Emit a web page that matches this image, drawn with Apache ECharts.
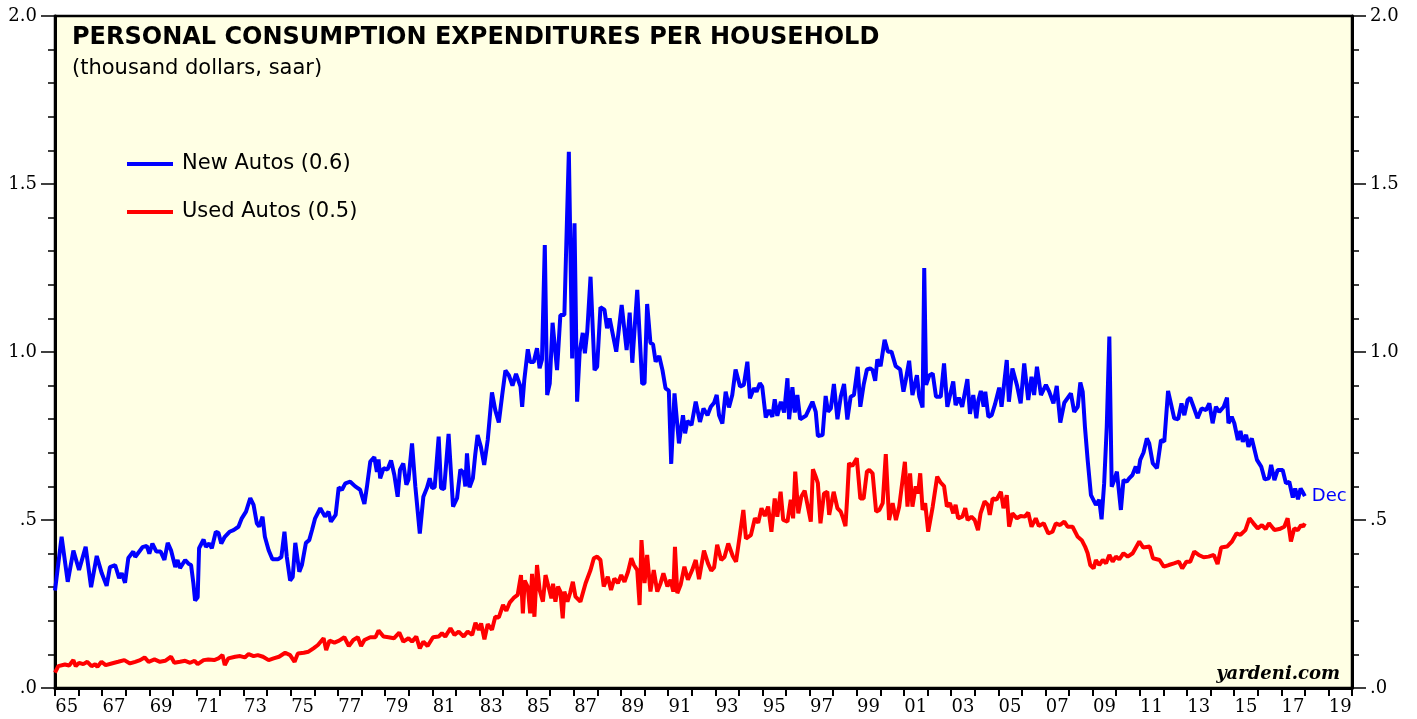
<!DOCTYPE html>
<html>
<head>
<meta charset="utf-8">
<script src="https://cdn.jsdelivr.net/npm/echarts@6/dist/echarts.min.js"></script>
<style>html,body{margin:0;padding:0;background:#fff}#c{width:1417px;height:719px}</style>
</head>
<body>
<div id="c"></div>
<script>
// Category (tick label) years along the x axis
const yearLabels = [];
for (let y = 1965; y <= 2019; y++) yearLabels.push(String(y).slice(2));

// Y axis tick labels
const yTickLabels = {0: '.0', 0.5: '.5', 1: '1.0', 1.5: '1.5', 2: '2.0'};

// New Autos: [decimal year, thousand dollars]
const newAutos = [
[1965.0,0.29],[1965.28,0.45],[1965.54,0.316],[1965.78,0.409],[1966.02,0.351],[1966.3,0.42],[1966.53,0.30],[1966.77,0.393],[1966.98,0.342],[1967.19,0.304],[1967.33,0.36],[1967.55,0.366],[1967.72,0.327],[1967.83,0.342],[1967.97,0.313],[1968.11,0.387],[1968.32,0.406],[1968.4,0.39],[1968.71,0.419],[1968.89,0.423],[1969.0,0.40],[1969.13,0.43],[1969.3,0.406],[1969.48,0.406],[1969.64,0.381],[1969.78,0.432],[1969.92,0.41],[1970.1,0.36],[1970.2,0.381],[1970.3,0.357],[1970.52,0.381],[1970.66,0.37],[1970.77,0.366],[1970.87,0.311],[1970.94,0.26],[1971.05,0.27],[1971.11,0.416],[1971.3,0.442],[1971.4,0.42],[1971.54,0.43],[1971.65,0.416],[1971.82,0.465],[1971.93,0.462],[1972.05,0.43],[1972.2,0.45],[1972.4,0.465],[1972.57,0.47],[1972.78,0.48],[1972.92,0.505],[1973.1,0.525],[1973.28,0.565],[1973.42,0.545],[1973.56,0.49],[1973.66,0.48],[1973.8,0.51],[1973.9,0.45],[1974.06,0.41],[1974.22,0.383],[1974.45,0.383],[1974.6,0.39],[1974.73,0.465],[1974.83,0.39],[1974.97,0.32],[1975.08,0.33],[1975.19,0.432],[1975.36,0.346],[1975.47,0.366],[1975.64,0.432],[1975.78,0.44],[1975.9,0.47],[1976.03,0.505],[1976.25,0.535],[1976.45,0.51],[1976.6,0.525],[1976.7,0.495],[1976.9,0.515],[1977.03,0.597],[1977.17,0.59],[1977.31,0.609],[1977.52,0.614],[1977.73,0.6],[1977.94,0.59],[1978.12,0.548],[1978.23,0.6],[1978.37,0.674],[1978.54,0.687],[1978.65,0.643],[1978.72,0.68],[1978.79,0.624],[1978.93,0.654],[1979.1,0.65],[1979.25,0.677],[1979.39,0.634],[1979.53,0.569],[1979.63,0.65],[1979.77,0.668],[1979.9,0.605],[1979.99,0.62],[1980.14,0.728],[1980.28,0.6],[1980.47,0.46],[1980.62,0.569],[1980.77,0.595],[1980.89,0.624],[1980.99,0.595],[1981.1,0.597],[1981.27,0.748],[1981.37,0.595],[1981.5,0.592],[1981.69,0.756],[1981.88,0.54],[1982.05,0.565],[1982.19,0.65],[1982.33,0.64],[1982.4,0.6],[1982.47,0.698],[1982.58,0.597],[1982.72,0.624],[1982.82,0.694],[1982.92,0.753],[1983.06,0.718],[1983.2,0.664],[1983.35,0.738],[1983.53,0.88],[1983.67,0.827],[1983.82,0.79],[1983.96,0.87],[1984.1,0.945],[1984.25,0.93],[1984.4,0.90],[1984.55,0.935],[1984.74,0.897],[1984.81,0.837],[1984.9,0.916],[1985.05,1.008],[1985.15,0.97],[1985.3,0.97],[1985.44,1.011],[1985.55,0.952],[1985.65,0.977],[1985.77,1.318],[1985.87,0.872],[1985.98,0.906],[1986.1,1.087],[1986.29,0.946],[1986.43,1.11],[1986.6,1.11],[1986.79,1.596],[1986.93,0.981],[1987.03,1.383],[1987.14,0.852],[1987.25,1.0],[1987.38,1.057],[1987.47,0.996],[1987.57,1.06],[1987.71,1.224],[1987.88,0.946],[1987.99,0.956],[1988.13,1.133],[1988.3,1.126],[1988.41,1.071],[1988.52,1.1],[1988.8,1.001],[1989.03,1.14],[1989.24,1.006],[1989.37,1.117],[1989.48,0.968],[1989.69,1.185],[1989.9,0.905],[1990.0,0.907],[1990.11,1.143],[1990.25,1.027],[1990.36,1.023],[1990.47,0.971],[1990.62,0.988],[1990.76,0.946],[1990.89,0.892],[1991.03,0.885],[1991.13,0.667],[1991.27,0.877],[1991.46,0.728],[1991.63,0.812],[1991.72,0.758],[1991.82,0.795],[1991.99,0.782],[1992.17,0.852],[1992.35,0.792],[1992.5,0.832],[1992.67,0.812],[1992.81,0.837],[1992.95,0.849],[1993.06,0.872],[1993.16,0.812],[1993.3,0.787],[1993.44,0.882],[1993.58,0.835],[1993.72,0.872],[1993.86,0.948],[1994.05,0.897],[1994.21,0.902],[1994.36,0.971],[1994.47,0.862],[1994.64,0.892],[1994.75,0.882],[1994.89,0.907],[1994.99,0.897],[1995.14,0.805],[1995.28,0.827],[1995.42,0.807],[1995.52,0.859],[1995.63,0.81],[1995.78,0.852],[1995.92,0.82],[1996.06,0.922],[1996.13,0.8],[1996.27,0.895],[1996.37,0.82],[1996.48,0.872],[1996.6,0.8],[1996.84,0.81],[1997.12,0.852],[1997.26,0.822],[1997.35,0.75],[1997.55,0.753],[1997.68,0.869],[1997.78,0.822],[1997.9,0.832],[1998.03,0.905],[1998.18,0.8],[1998.32,0.867],[1998.46,0.905],[1998.6,0.799],[1998.74,0.867],[1998.88,0.872],[1999.04,0.956],[1999.15,0.837],[1999.29,0.902],[1999.43,0.948],[1999.57,0.951],[1999.67,0.946],[1999.78,0.914],[1999.87,0.978],[2000.01,0.958],[2000.18,1.036],[2000.32,1.001],[2000.47,1.001],[2000.65,0.958],[2000.84,0.948],[2000.98,0.882],[2001.08,0.917],[2001.22,0.974],[2001.36,0.872],[2001.55,0.931],[2001.65,0.867],[2001.79,0.835],[2001.86,1.25],[2001.94,0.902],[2002.08,0.931],[2002.22,0.936],[2002.36,0.867],[2002.56,0.867],[2002.7,0.966],[2002.84,0.837],[2003.09,0.912],[2003.19,0.842],[2003.33,0.864],[2003.47,0.837],[2003.69,0.919],[2003.8,0.816],[2003.94,0.872],[2004.07,0.803],[2004.16,0.857],[2004.26,0.884],[2004.38,0.837],[2004.45,0.882],[2004.58,0.807],[2004.72,0.812],[2004.86,0.844],[2005.04,0.894],[2005.14,0.837],[2005.36,0.976],[2005.45,0.852],[2005.6,0.951],[2005.79,0.902],[2005.95,0.847],[2006.1,0.966],[2006.27,0.857],[2006.41,0.926],[2006.52,0.872],[2006.64,0.956],[2006.81,0.872],[2007.02,0.902],[2007.16,0.882],[2007.34,0.847],[2007.48,0.899],[2007.63,0.79],[2007.8,0.849],[2008.08,0.877],[2008.22,0.822],[2008.37,0.837],[2008.48,0.909],[2008.58,0.882],[2008.68,0.773],[2008.79,0.679],[2008.93,0.574],[2009.14,0.545],[2009.28,0.56],[2009.38,0.502],[2009.49,0.609],[2009.6,0.777],[2009.71,1.046],[2009.81,0.599],[2009.92,0.619],[2010.03,0.644],[2010.2,0.53],[2010.31,0.619],[2010.45,0.614],[2010.55,0.624],[2010.69,0.634],[2010.83,0.659],[2010.93,0.639],[2011.02,0.679],[2011.16,0.701],[2011.3,0.743],[2011.4,0.728],[2011.55,0.669],[2011.73,0.654],[2011.9,0.738],[2012.04,0.733],[2012.2,0.884],[2012.32,0.847],[2012.46,0.803],[2012.63,0.8],[2012.77,0.847],[2012.89,0.812],[2013.03,0.857],[2013.14,0.864],[2013.28,0.837],[2013.45,0.803],[2013.62,0.832],[2013.81,0.827],[2013.95,0.847],[2014.09,0.788],[2014.23,0.837],[2014.37,0.822],[2014.56,0.837],[2014.7,0.864],[2014.76,0.788],[2014.9,0.807],[2015.01,0.788],[2015.16,0.738],[2015.27,0.765],[2015.37,0.733],[2015.51,0.753],[2015.61,0.718],[2015.75,0.743],[2015.97,0.679],[2016.15,0.659],[2016.3,0.621],[2016.47,0.624],[2016.57,0.664],[2016.71,0.619],[2016.85,0.649],[2017.06,0.649],[2017.2,0.609],[2017.34,0.614],[2017.49,0.567],[2017.59,0.594],[2017.71,0.562],[2017.82,0.594],[2017.9,0.584],[2018.0,0.571]
];

// Used Autos: [decimal year, thousand dollars]
const usedAutos = [
[1965.0,0.046],[1965.14,0.065],[1965.42,0.07],[1965.6,0.067],[1965.78,0.083],[1965.88,0.065],[1966.02,0.075],[1966.2,0.071],[1966.37,0.078],[1966.55,0.065],[1966.7,0.071],[1966.8,0.063],[1966.97,0.078],[1967.15,0.068],[1967.4,0.073],[1967.68,0.078],[1967.94,0.083],[1968.18,0.073],[1968.4,0.078],[1968.61,0.083],[1968.8,0.091],[1968.97,0.078],[1969.22,0.085],[1969.45,0.078],[1969.67,0.081],[1969.92,0.093],[1970.06,0.075],[1970.3,0.078],[1970.52,0.081],[1970.73,0.075],[1970.92,0.081],[1971.05,0.071],[1971.3,0.083],[1971.5,0.085],[1971.75,0.083],[1971.93,0.088],[1972.1,0.098],[1972.2,0.068],[1972.35,0.088],[1972.64,0.093],[1972.85,0.095],[1973.05,0.091],[1973.21,0.101],[1973.42,0.095],[1973.6,0.098],[1973.82,0.093],[1974.06,0.083],[1974.27,0.088],[1974.5,0.093],[1974.76,0.105],[1974.97,0.098],[1975.16,0.078],[1975.3,0.103],[1975.55,0.105],[1975.75,0.108],[1975.96,0.118],[1976.15,0.128],[1976.39,0.148],[1976.5,0.113],[1976.64,0.141],[1976.85,0.135],[1977.05,0.141],[1977.27,0.151],[1977.46,0.125],[1977.65,0.143],[1977.84,0.151],[1977.98,0.125],[1978.12,0.143],[1978.37,0.151],[1978.59,0.151],[1978.72,0.171],[1978.93,0.153],[1979.14,0.151],[1979.37,0.148],[1979.6,0.165],[1979.77,0.138],[1979.99,0.148],[1980.14,0.138],[1980.32,0.153],[1980.47,0.118],[1980.62,0.138],[1980.8,0.125],[1981.03,0.151],[1981.27,0.153],[1981.41,0.163],[1981.55,0.153],[1981.77,0.178],[1981.94,0.158],[1982.12,0.168],[1982.33,0.153],[1982.5,0.168],[1982.69,0.158],[1982.83,0.194],[1982.97,0.173],[1983.07,0.192],[1983.21,0.145],[1983.35,0.19],[1983.53,0.173],[1983.67,0.212],[1983.82,0.21],[1984.0,0.247],[1984.14,0.23],[1984.28,0.254],[1984.45,0.268],[1984.62,0.277],[1984.76,0.336],[1984.84,0.222],[1984.92,0.32],[1985.05,0.3],[1985.15,0.222],[1985.23,0.34],[1985.33,0.212],[1985.44,0.366],[1985.55,0.292],[1985.69,0.257],[1985.8,0.336],[1985.98,0.287],[1986.05,0.267],[1986.12,0.31],[1986.22,0.257],[1986.33,0.302],[1986.43,0.287],[1986.53,0.207],[1986.6,0.287],[1986.73,0.257],[1986.84,0.282],[1986.96,0.316],[1987.07,0.272],[1987.28,0.257],[1987.5,0.312],[1987.71,0.351],[1987.85,0.386],[1987.99,0.391],[1988.13,0.381],[1988.27,0.302],[1988.44,0.331],[1988.58,0.292],[1988.72,0.326],[1988.87,0.312],[1989.01,0.336],[1989.15,0.316],[1989.3,0.346],[1989.44,0.386],[1989.55,0.366],[1989.69,0.351],[1989.79,0.247],[1989.87,0.44],[1990.0,0.312],[1990.11,0.396],[1990.25,0.287],[1990.39,0.351],[1990.54,0.287],[1990.68,0.312],[1990.8,0.341],[1990.97,0.302],[1991.1,0.322],[1991.22,0.287],[1991.29,0.42],[1991.39,0.282],[1991.53,0.307],[1991.69,0.361],[1991.84,0.322],[1992.02,0.351],[1992.17,0.381],[1992.31,0.324],[1992.52,0.409],[1992.69,0.371],[1992.83,0.349],[1992.95,0.359],[1993.08,0.426],[1993.25,0.381],[1993.39,0.39],[1993.55,0.43],[1993.74,0.393],[1993.88,0.376],[1994.05,0.46],[1994.19,0.53],[1994.3,0.445],[1994.51,0.455],[1994.68,0.505],[1994.82,0.492],[1994.96,0.535],[1995.1,0.512],[1995.24,0.54],[1995.38,0.465],[1995.52,0.564],[1995.63,0.51],[1995.77,0.584],[1995.88,0.5],[1996.06,0.495],[1996.2,0.56],[1996.3,0.505],[1996.39,0.644],[1996.52,0.52],[1996.65,0.57],[1996.79,0.587],[1996.91,0.545],[1997.05,0.495],[1997.14,0.651],[1997.26,0.629],[1997.35,0.61],[1997.46,0.49],[1997.61,0.579],[1997.75,0.584],[1997.83,0.515],[1998.02,0.584],[1998.18,0.535],[1998.32,0.525],[1998.42,0.505],[1998.52,0.482],[1998.6,0.574],[1998.67,0.669],[1998.81,0.661],[1999.0,0.684],[1999.15,0.564],[1999.29,0.564],[1999.43,0.644],[1999.53,0.649],[1999.67,0.639],[1999.82,0.525],[1999.96,0.53],[2000.1,0.55],[2000.23,0.696],[2000.37,0.5],[2000.52,0.55],[2000.66,0.5],[2000.8,0.54],[2001.04,0.673],[2001.15,0.54],[2001.26,0.639],[2001.36,0.54],[2001.5,0.6],[2001.6,0.579],[2001.69,0.639],[2001.79,0.53],[2001.9,0.55],[2002.03,0.465],[2002.22,0.54],[2002.41,0.629],[2002.56,0.611],[2002.7,0.601],[2002.82,0.54],[2002.95,0.55],[2003.09,0.52],[2003.19,0.545],[2003.3,0.505],[2003.48,0.51],[2003.6,0.535],[2003.7,0.5],[2003.86,0.51],[2004.0,0.5],[2004.14,0.47],[2004.25,0.52],[2004.42,0.555],[2004.56,0.545],[2004.64,0.515],[2004.76,0.564],[2004.93,0.561],[2005.11,0.584],[2005.22,0.535],[2005.36,0.574],[2005.46,0.48],[2005.6,0.52],[2005.79,0.505],[2005.95,0.512],[2006.13,0.51],[2006.27,0.522],[2006.41,0.48],[2006.59,0.505],[2006.72,0.482],[2006.93,0.49],[2007.12,0.46],[2007.3,0.465],[2007.44,0.49],[2007.62,0.485],[2007.8,0.495],[2007.94,0.48],[2008.15,0.48],[2008.37,0.45],[2008.54,0.44],[2008.68,0.421],[2008.79,0.401],[2008.9,0.366],[2009.04,0.356],[2009.14,0.381],[2009.28,0.366],[2009.43,0.381],[2009.57,0.371],[2009.71,0.396],[2009.85,0.376],[2009.99,0.391],[2010.13,0.383],[2010.31,0.401],[2010.49,0.391],[2010.7,0.401],[2010.98,0.436],[2011.15,0.418],[2011.42,0.421],[2011.56,0.386],[2011.84,0.381],[2012.02,0.361],[2012.23,0.366],[2012.45,0.371],[2012.66,0.376],[2012.8,0.356],[2012.98,0.376],[2013.14,0.376],[2013.31,0.406],[2013.5,0.396],[2013.71,0.389],[2013.92,0.391],[2014.14,0.396],[2014.3,0.369],[2014.45,0.418],[2014.7,0.421],[2014.91,0.436],[2015.1,0.46],[2015.27,0.456],[2015.48,0.47],[2015.65,0.505],[2015.82,0.49],[2016.0,0.475],[2016.18,0.485],[2016.34,0.473],[2016.48,0.49],[2016.71,0.47],[2016.92,0.473],[2017.13,0.48],[2017.27,0.505],[2017.41,0.436],[2017.55,0.475],[2017.7,0.47],[2017.84,0.485],[2017.93,0.48],[2018.0,0.49]
];

const chart = echarts.init(document.getElementById('c'), null, {renderer: 'canvas'});

const yAxisCommon = {
  type: 'value', min: 0, max: 2, interval: 0.5,
  axisLine: {show: true, lineStyle: {color: '#000', width: 3}},
  axisTick: {show: true, inside: false, length: 14, lineStyle: {color: '#000', width: 1.5}},
  minorTick: {show: true, splitNumber: 5, length: 7, lineStyle: {color: '#000', width: 1.5}},
  splitLine: {show: false},
  minorSplitLine: {show: false},
  axisLabel: {
    margin: 18, color: '#000', fontFamily: 'DejaVu Serif', fontSize: 18,
    formatter: v => yTickLabels[v] !== undefined ? yTickLabels[v] : ''
  }
};

chart.setOption({
  animation: false,
  backgroundColor: '#ffffff',
  title: [
    {text: 'PERSONAL CONSUMPTION EXPENDITURES PER HOUSEHOLD', left: 67, top: 21,
     textStyle: {fontFamily: 'DejaVu Sans', fontWeight: 'bold', fontSize: 24, color: '#000'}},
    {text: '(thousand dollars, saar)', left: 67, top: 53,
     textStyle: {fontFamily: 'DejaVu Sans', fontWeight: 'normal', fontSize: 21, color: '#000'}},
    {text: 'yardeni.com', right: 72, top: 660,
     textStyle: {fontFamily: 'DejaVu Serif', fontStyle: 'italic', fontWeight: 'bold', fontSize: 18, color: '#000'}}
  ],
  legend: {
    orient: 'vertical', left: 122, top: 147,
    icon: 'rect', itemWidth: 46, itemHeight: 4, itemGap: 24,
    textStyle: {fontFamily: 'DejaVu Sans', fontSize: 21, color: '#000', lineHeight: 24, padding: [0, 0, 0, 4]},
    data: ['New Autos (0.6)', 'Used Autos (0.5)']
  },
  grid: {left: 55, right: 65, top: 16, bottom: 31, show: true,
         backgroundColor: '#FFFFE4', borderColor: '#000', borderWidth: 2.5},
  xAxis: [
    {type: 'category', data: yearLabels, boundaryGap: true, position: 'bottom',
     axisLine: {show: true, lineStyle: {color: '#000', width: 3}},
     axisTick: {show: true, interval: 0, length: 8, lineStyle: {color: '#000', width: 2}},
     axisLabel: {interval: 1, margin: 10, color: '#000', fontFamily: 'DejaVu Serif', fontSize: 18},
     splitLine: {show: false}},
    {type: 'value', min: 1965, max: 2020, show: false, splitLine: {show: false}}
  ],
  yAxis: [
    Object.assign({}, yAxisCommon, {position: 'left'}),
    Object.assign({}, yAxisCommon, {position: 'right'})
  ],
  series: [
    {name: 'New Autos (0.6)', type: 'line', xAxisIndex: 1, yAxisIndex: 0, data: newAutos,
     showSymbol: false, symbol: 'none', lineStyle: {color: '#0000FF', width: 4},
     itemStyle: {color: '#0000FF'},
     endLabel: {show: true, formatter: 'Dec', color: '#0000FF', fontFamily: 'DejaVu Sans', fontSize: 18, distance: 7}},
    {name: 'Used Autos (0.5)', type: 'line', xAxisIndex: 1, yAxisIndex: 0, data: usedAutos,
     showSymbol: false, symbol: 'none', lineStyle: {color: '#FF0000', width: 4},
     itemStyle: {color: '#FF0000'}}
  ]
});
</script>
</body>
</html>
